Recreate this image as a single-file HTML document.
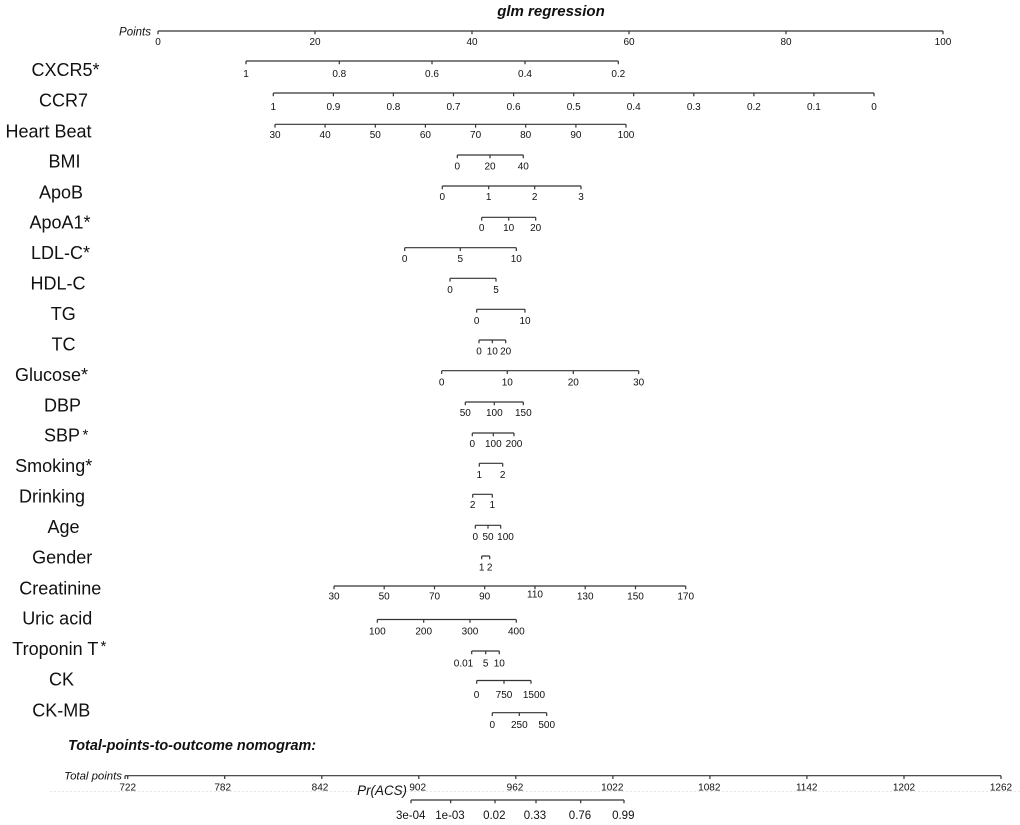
<!DOCTYPE html>
<html>
<head>
<meta charset="utf-8">
<style>
  html, body { margin: 0; padding: 0; background: #fff; }
  svg { display: block; }
  .t { font-family: "Liberation Sans", Arial, sans-serif; fill: #111; }
  .tick { font-size: 10px; text-anchor: middle; }
  .row { font-size: 18px; text-anchor: middle; }
  .ax { stroke: #333; stroke-width: 1.2; fill: none; }
</style>
</head>
<body>
<svg width="1020" height="825" viewBox="0 0 1020 825" xmlns="http://www.w3.org/2000/svg">
<rect x="0" y="0" width="1020" height="825" fill="#fff"/>

<!-- Title -->
<text class="t" x="551" y="16" font-size="15" font-weight="bold" font-style="italic" text-anchor="middle">glm regression</text>

<!-- Points axis -->
<text class="t" x="151" y="35.5" font-size="11.5" font-style="italic" text-anchor="end">Points</text>
<path class="ax" d="M158 31H943 M158 31v3.3 M315 31v3.3 M472 31v3.3 M629 31v3.3 M786 31v3.3 M943 31v3.3"/>
<g class="t tick">
<text x="158" y="44.8">0</text><text x="315" y="44.8">20</text><text x="472" y="44.8">40</text>
<text x="629" y="44.8">60</text><text x="786" y="44.8">80</text><text x="943" y="44.8">100</text>
</g>

<!-- Row labels -->
<g class="t row">
<text x="65.5" y="76">CXCR5*</text>
<text x="63.5" y="106.7">CCR7</text>
<text x="48.5" y="137.3">Heart Beat</text>
<text x="64.5" y="167.7">BMI</text>
<text x="61" y="198.3">ApoB</text>
<text x="60" y="228.3">ApoA1*</text>
<text x="60.5" y="259">LDL-C*</text>
<text x="58" y="289.3">HDL-C</text>
<text x="63.3" y="320">TG</text>
<text x="63.5" y="350.7">TC</text>
<text x="51.5" y="381">Glucose*</text>
<text x="62.5" y="411.7">DBP</text>
<text x="53.7" y="472">Smoking*</text>
<text x="52" y="502.5">Drinking</text>
<text x="63.5" y="533">Age</text>
<text x="62.2" y="563.5">Gender</text>
<text x="60.3" y="594.3">Creatinine</text>
<text x="57.2" y="624.7">Uric acid</text>
<text x="61.5" y="685.7">CK</text>
<text x="61.3" y="716.5">CK-MB</text>
</g>
<text class="t" x="44" y="441.7" font-size="18">SBP</text>
<text class="t" x="82.5" y="439.5" font-size="15">*</text>
<text class="t" x="12.3" y="655" font-size="18">Troponin T</text>
<text class="t" x="100.5" y="651" font-size="15">*</text>

<!-- CXCR5 -->
<path class="ax" d="M246 61H618.3 M246 61v3.3 M339.3 61v3.3 M432 61v3.3 M525 61v3.3 M618.3 61v3.3"/>
<g class="t tick">
<text x="246" y="76.8">1</text><text x="339.3" y="76.8">0.8</text><text x="432" y="76.8">0.6</text>
<text x="525" y="76.8">0.4</text><text x="618.3" y="76.8">0.2</text>
</g>

<!-- CCR7 -->
<path class="ax" d="M273.3 93H874 M273.3 93v3.3 M333.4 93v3.3 M393.4 93v3.3 M453.5 93v3.3 M513.6 93v3.3 M573.7 93v3.3 M633.7 93v3.3 M693.8 93v3.3 M753.9 93v3.3 M813.9 93v3.3 M874 93v3.3"/>
<g class="t tick">
<text x="273.3" y="109.8">1</text><text x="333.4" y="109.8">0.9</text><text x="393.4" y="109.8">0.8</text>
<text x="453.5" y="109.8">0.7</text><text x="513.6" y="109.8">0.6</text><text x="573.7" y="109.8">0.5</text>
<text x="633.7" y="109.8">0.4</text><text x="693.8" y="109.8">0.3</text><text x="753.9" y="109.8">0.2</text>
<text x="813.9" y="109.8">0.1</text><text x="874" y="109.8">0</text>
</g>

<!-- Heart Beat -->
<path class="ax" d="M275 124.3H626 M275 124.3v3.3 M325.1 124.3v3.3 M375.3 124.3v3.3 M425.4 124.3v3.3 M475.6 124.3v3.3 M525.7 124.3v3.3 M575.9 124.3v3.3 M626 124.3v3.3"/>
<g class="t tick">
<text x="275" y="138">30</text><text x="325.1" y="138">40</text><text x="375.3" y="138">50</text>
<text x="425.4" y="138">60</text><text x="475.6" y="138">70</text><text x="525.7" y="138">80</text>
<text x="575.9" y="138">90</text><text x="626" y="138">100</text>
</g>

<!-- BMI -->
<path class="ax" d="M457.3 155H523.3 M457.3 155v3.3 M490 155v3.3 M523.3 155v3.3"/>
<g class="t tick"><text x="457.3" y="169.5">0</text><text x="490" y="169.5">20</text><text x="523.3" y="169.5">40</text></g>

<!-- ApoB -->
<path class="ax" d="M442.3 186H581 M442.3 186v3.3 M488.7 186v3.3 M534.7 186v3.3 M581 186v3.3"/>
<g class="t tick"><text x="442.3" y="199.8">0</text><text x="488.7" y="199.8">1</text><text x="534.7" y="199.8">2</text><text x="581" y="199.8">3</text></g>

<!-- ApoA1 -->
<path class="ax" d="M481.7 217.3H535.7 M481.7 217.3v3.3 M508.7 217.3v3.3 M535.7 217.3v3.3"/>
<g class="t tick"><text x="481.7" y="231">0</text><text x="508.7" y="231">10</text><text x="535.7" y="231">20</text></g>

<!-- LDL-C -->
<path class="ax" d="M404.7 247.7H516.3 M404.7 247.7v3.3 M460.3 247.7v3.3 M516.3 247.7v3.3"/>
<g class="t tick"><text x="404.7" y="262">0</text><text x="460.3" y="262">5</text><text x="516.3" y="262">10</text></g>

<!-- HDL-C -->
<path class="ax" d="M450 278.3H496 M450 278.3v3.3 M496 278.3v3.3"/>
<g class="t tick"><text x="450" y="293">0</text><text x="496" y="293">5</text></g>

<!-- TG -->
<path class="ax" d="M476.7 309.3H525 M476.7 309.3v3.3 M525 309.3v3.3"/>
<g class="t tick"><text x="476.7" y="323.8">0</text><text x="525" y="323.8">10</text></g>

<!-- TC -->
<path class="ax" d="M479 340H505.7 M479 340v3.3 M492.3 340v3.3 M505.7 340v3.3"/>
<g class="t tick"><text x="479" y="354.5">0</text><text x="492.3" y="354.5">10</text><text x="505.7" y="354.5">20</text></g>

<!-- Glucose -->
<path class="ax" d="M441.7 370.7H638.7 M441.7 370.7v3.3 M507.3 370.7v3.3 M573.3 370.7v3.3 M638.7 370.7v3.3"/>
<g class="t tick"><text x="441.7" y="385.5">0</text><text x="507.3" y="385.5">10</text><text x="573.3" y="385.5">20</text><text x="638.7" y="385.5">30</text></g>

<!-- DBP -->
<path class="ax" d="M465.3 402H523.3 M465.3 402v3.3 M494.3 402v3.3 M523.3 402v3.3"/>
<g class="t tick"><text x="465.3" y="416">50</text><text x="494.3" y="416">100</text><text x="523.3" y="416">150</text></g>

<!-- SBP -->
<path class="ax" d="M472.3 433H514 M472.3 433v3.3 M493.3 433v3.3 M514 433v3.3"/>
<g class="t tick"><text x="472.3" y="447">0</text><text x="493.3" y="447">100</text><text x="514" y="447">200</text></g>

<!-- Smoking -->
<path class="ax" d="M479.3 463.3H502.7 M479.3 463.3v3.3 M502.7 463.3v3.3"/>
<g class="t tick"><text x="479.3" y="477.8">1</text><text x="502.7" y="477.8">2</text></g>

<!-- Drinking -->
<path class="ax" d="M472.7 494.3H492.3 M472.7 494.3v3.3 M492.3 494.3v3.3"/>
<g class="t tick"><text x="472.7" y="508">2</text><text x="492.3" y="508">1</text></g>

<!-- Age -->
<path class="ax" d="M475.3 525.3H500.7 M475.3 525.3v3.3 M488 525.3v3.3 M500.7 525.3v3.3"/>
<g class="t tick"><text x="475.3" y="539.8">0</text><text x="488" y="539.8">50</text><text x="505.5" y="539.8">100</text></g>

<!-- Gender -->
<path class="ax" d="M481.7 556H489.7 M481.7 556v3.3 M489.7 556v3.3"/>
<g class="t tick"><text x="481.7" y="570.5">1</text><text x="489.7" y="570.5">2</text></g>

<!-- Creatinine -->
<path class="ax" d="M334 586H685.7 M334 586v3.3 M384.2 586v3.3 M434.5 586v3.3 M484.7 586v3.3 M535 586v3.3 M585.2 586v3.3 M635.5 586v3.3 M685.7 586v3.3"/>
<g class="t tick">
<text x="334" y="599.5">30</text><text x="384.2" y="599.5">50</text><text x="434.5" y="599.5">70</text>
<text x="484.7" y="599.5">90</text><text x="535" y="597.5">110</text><text x="585.2" y="599.5">130</text>
<text x="635.5" y="599.5">150</text><text x="685.7" y="599.5">170</text>
</g>

<!-- Uric acid -->
<path class="ax" d="M377.3 619.5H516.3 M377.3 619.5v3.3 M423.7 619.5v3.3 M470 619.5v3.3 M516.3 619.5v3.3"/>
<g class="t tick"><text x="377.3" y="634.5">100</text><text x="423.7" y="634.5">200</text><text x="470" y="634.5">300</text><text x="516.3" y="634.5">400</text></g>

<!-- Troponin T -->
<path class="ax" d="M471.7 651H499.3 M471.7 651v3.3 M485.7 651v3.3 M499.3 651v3.3"/>
<g class="t tick"><text x="463.5" y="666.5">0.01</text><text x="485.7" y="666.5">5</text><text x="499.3" y="666.5">10</text></g>

<!-- CK -->
<path class="ax" d="M476.7 680.5H531 M476.7 680.5v3.3 M504 680.5v3.3 M531 680.5v3.3"/>
<g class="t tick"><text x="476.5" y="697.8">0</text><text x="504" y="697.8">750</text><text x="534" y="697.8">1500</text></g>

<!-- CK-MB -->
<path class="ax" d="M492.3 712.7H546.7 M492.3 712.7v3.3 M519.3 712.7v3.3 M546.7 712.7v3.3"/>
<g class="t tick"><text x="492.3" y="728">0</text><text x="519.3" y="728">250</text><text x="546.7" y="728">500</text></g>

<!-- Total points section -->
<text class="t" x="68" y="750" font-size="14.4" font-weight="bold" font-style="italic">Total-points-to-outcome nomogram:</text>

<text class="t" x="122" y="779.5" font-size="11.4" font-style="italic" text-anchor="end">Total points</text>
<path class="ax" d="M125 775.7H1001 M125 775.7v3.3 M127.7 775.7v3.3 M224.7 775.7v3.3 M321.8 775.7v3.3 M418.8 775.7v3.3 M515.8 775.7v3.3 M612.9 775.7v3.3 M709.9 775.7v3.3 M806.9 775.7v3.3 M904 775.7v3.3 M1001 775.7v3.3"/>
<g class="t tick">
<text x="127.7" y="790.3">722</text><text x="222.7" y="790.3">782</text><text x="320" y="790.3">842</text>
<text x="417.7" y="790.3">902</text><text x="515" y="790.3">962</text><text x="612.3" y="790.3">1022</text>
<text x="709.3" y="790.3">1082</text><text x="806.7" y="790.3">1142</text><text x="904" y="790.3">1202</text>
<text x="1001" y="790.3">1262</text>
</g>

<!-- faint dotted artifact line -->
<path d="M50 791.5H1020" stroke="#e6e6e6" stroke-width="1" stroke-dasharray="2 2"/>

<!-- Pr(ACS) axis -->
<text class="t" x="407" y="795" font-size="13.4" font-style="italic" text-anchor="end">Pr(ACS)</text>
<path class="ax" d="M411 800H624 M411 800v3.3 M450.7 800v3.3 M495 800v3.3 M536 800v3.3 M580.7 800v3.3 M624 800v3.3"/>
<g class="t" font-size="11.5" text-anchor="middle">
<text x="410.7" y="819">3e-04</text><text x="450" y="819">1e-03</text><text x="494.3" y="819">0.02</text>
<text x="535" y="819">0.33</text><text x="580" y="819">0.76</text><text x="623.3" y="819">0.99</text>
</g>
</svg>
</body>
</html>
